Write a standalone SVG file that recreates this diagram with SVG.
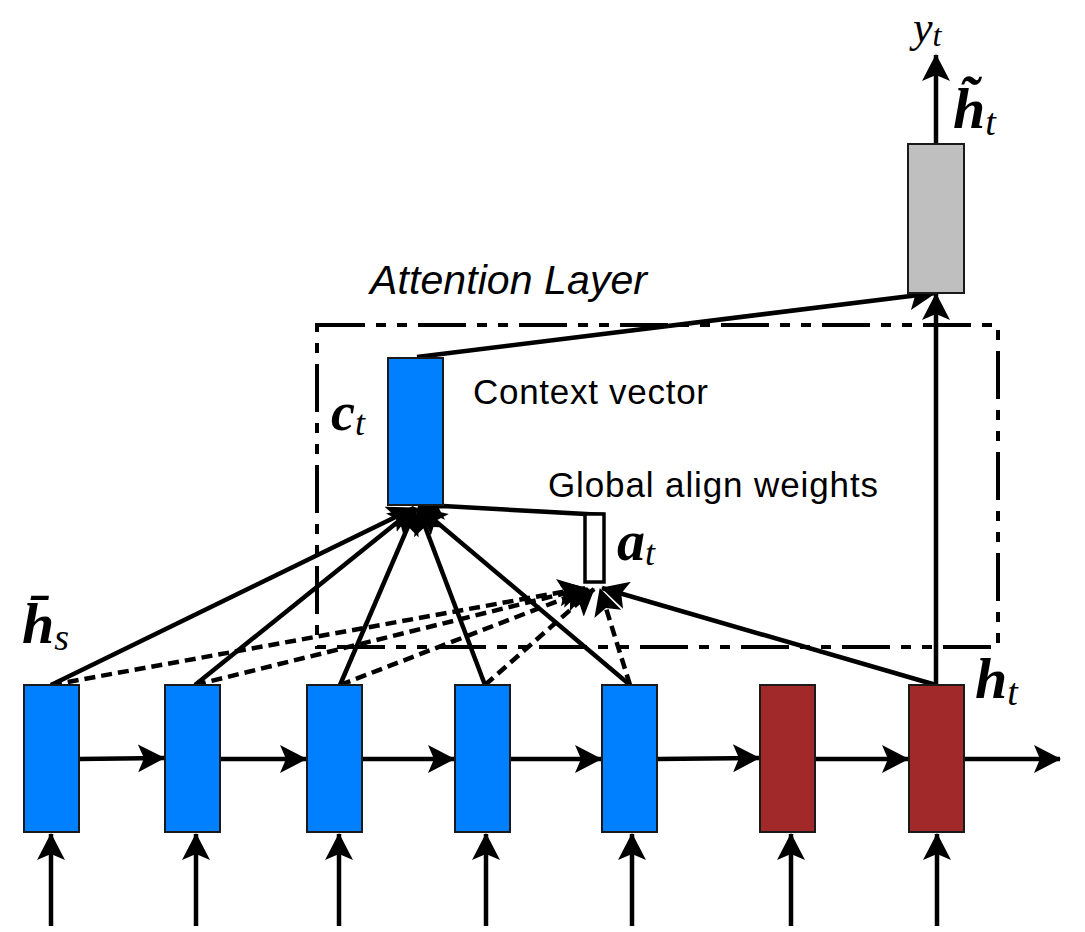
<svg xmlns="http://www.w3.org/2000/svg" width="1085" height="932" viewBox="0 0 1085 932">
<defs>
<marker id="ah" viewBox="0 0 28 28" refX="26" refY="14" markerWidth="28" markerHeight="28" markerUnits="userSpaceOnUse" orient="auto">
<path d="M0,0 L27,14 L0,28 L6,14 z" fill="#000"/>
</marker>
<style>
.ln{stroke:#000;stroke-width:4.5;fill:none;marker-end:url(#ah)}
.dl{stroke:#000;stroke-width:4.5;fill:none;stroke-dasharray:11 6;marker-end:url(#ah)}
.blue{fill:#0080FF;stroke:#1a1a1a;stroke-width:2}
.red{fill:#A2292A;stroke:#1a1a1a;stroke-width:2}
.gray{fill:#BFBFBF;stroke:#1a1a1a;stroke-width:2}
.sans{font-family:"Liberation Sans",Arial,sans-serif;fill:#000}
.m{font-family:"Liberation Serif","DejaVu Serif",serif;font-style:italic;fill:#000}
.b{font-weight:bold}
</style>
</defs>
<rect id="attention-box" x="317" y="325" width="681" height="322" fill="none" stroke="#000" stroke-width="4" stroke-dasharray="48 11 10 11 10 11"/>
<g id="connectors">
<line class="ln" x1="51" y1="926" x2="51" y2="834"/>
<line class="ln" x1="196" y1="926" x2="196" y2="834"/>
<line class="ln" x1="339" y1="926" x2="339" y2="834"/>
<line class="ln" x1="486" y1="926" x2="486" y2="834"/>
<line class="ln" x1="632" y1="926" x2="632" y2="834"/>
<line class="ln" x1="791" y1="926" x2="791" y2="834"/>
<line class="ln" x1="937" y1="926" x2="937" y2="834"/>
<line class="ln" x1="79" y1="759" x2="164" y2="758"/>
<line class="ln" x1="220" y1="759" x2="306" y2="759"/>
<line class="ln" x1="363" y1="759" x2="454" y2="759"/>
<line class="ln" x1="510" y1="759" x2="601" y2="759"/>
<line class="ln" x1="657" y1="759" x2="759" y2="758"/>
<line class="ln" x1="815" y1="759" x2="908" y2="759"/>
<line class="ln" x1="964" y1="759" x2="1060" y2="759"/>
<line class="dl" x1="51" y1="685" x2="584" y2="588"/>
<line class="dl" x1="195" y1="685" x2="586" y2="588"/>
<line class="dl" x1="340" y1="685" x2="589" y2="589"/>
<line class="dl" x1="485" y1="685" x2="594" y2="589"/>
<line class="dl" x1="630" y1="685" x2="600" y2="589"/>
<line class="ln" x1="51" y1="685" x2="414" y2="508"/>
<line class="ln" x1="195" y1="685" x2="415" y2="508"/>
<line class="ln" x1="340" y1="685" x2="416" y2="508"/>
<line class="ln" x1="485" y1="685" x2="418" y2="508"/>
<line class="ln" x1="630" y1="685" x2="420" y2="508"/>
<polyline class="ln" points="604,515 443,506 418,508"/>
<line class="ln" x1="936" y1="685" x2="602" y2="588"/>
<line class="ln" x1="417" y1="357" x2="935" y2="293"/>
<line class="ln" x1="936" y1="685" x2="936" y2="294"/>
<line class="ln" x1="936" y1="144" x2="936" y2="55"/>
</g>
<g id="node-hs1"><rect class="blue" x="24" y="685" width="55" height="147"/></g>
<g id="node-hs2"><rect class="blue" x="165" y="685" width="55" height="147"/></g>
<g id="node-hs3"><rect class="blue" x="307" y="685" width="55" height="147"/></g>
<g id="node-hs4"><rect class="blue" x="455" y="685" width="55" height="147"/></g>
<g id="node-hs5"><rect class="blue" x="602" y="685" width="55" height="147"/></g>
<g id="node-ht1"><rect class="red" x="760" y="685" width="55" height="147"/></g>
<g id="node-ht"><rect class="red" x="909" y="685" width="55" height="147"/></g>
<g id="node-htilde"><rect class="gray" x="908" y="144" width="56" height="149"/></g>
<g id="node-ct"><rect class="blue" x="388" y="358" width="55" height="147"/></g>
<g id="node-at"><rect x="585" y="514" width="19" height="68" fill="#fff" stroke="#000" stroke-width="3.5"/></g>
<g id="labels">
<text class="sans" x="370" y="294" font-size="41" font-style="italic" textLength="277">Attention Layer</text>
<text class="sans" x="473" y="404" font-size="35" textLength="235">Context vector</text>
<text class="sans" x="548" y="497" font-size="35" textLength="330">Global align weights</text>
<text class="m" x="331" y="430" font-size="54"><tspan class="b">c</tspan><tspan font-size="36" dy="5">t</tspan></text>
<text class="m" x="617" y="560" font-size="56"><tspan class="b">a</tspan><tspan font-size="36" dy="5">t</tspan></text>
<text class="m" x="22" y="643" font-size="58"><tspan class="b">h&#x0304;</tspan><tspan font-size="38" dy="7">s</tspan></text>
<text class="m" x="975" y="698" font-size="58"><tspan class="b">h</tspan><tspan font-size="38" dy="7">t</tspan></text>
<text class="m" x="953" y="128" font-size="58"><tspan class="b">h&#x0303;</tspan><tspan font-size="38" dy="7">t</tspan></text>
<text class="m" x="913" y="42" font-size="44">y<tspan font-size="32" dy="4">t</tspan></text>
</g>
</svg>
